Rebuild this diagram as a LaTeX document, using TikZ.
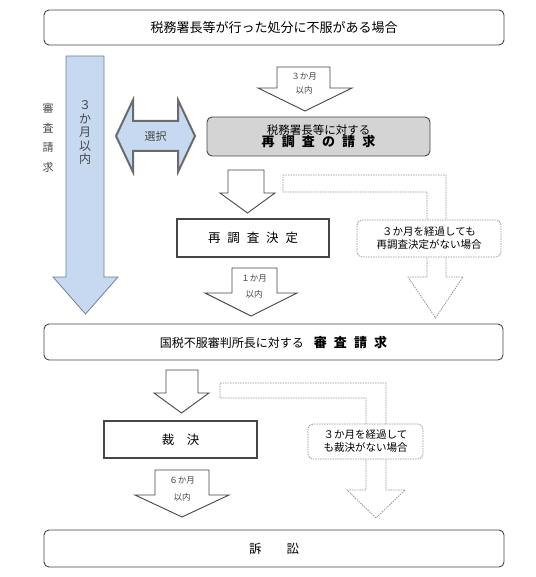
\documentclass[tikz,border=0pt]{standalone}
\usepackage{fontspec}
\setmainfont{Noto Sans CJK JP}
\usepackage{tikz}
\usetikzlibrary{calc}

\definecolor{paleblue}{RGB}{198,217,241}
\definecolor{edgeblue}{RGB}{110,128,155}
\definecolor{boxgrey}{RGB}{212,212,212}
\definecolor{lineg}{RGB}{70,70,70}
\definecolor{dashg}{RGB}{150,150,150}

% down block arrow: style, shaft left, shaft right, top, head left, head right, head base, tip
\newcommand\dnarrow[8]{%
  \draw[#1] (#2,#4) -- (#3,#4) -- (#3,#7) -- (#6,#7) -- ({(#5+#6)/2},#8)
    -- (#5,#7) -- (#2,#7) -- cycle;}

\tikzset{
  stagebox/.style={draw=lineg,line width=.9pt,rounded corners=5pt,fill=white,inner sep=0pt},
  resultbox/.style={draw=lineg,line width=1.4pt,fill=white,inner sep=0pt},
  notebox/.style={draw=dashg,dash pattern=on 1.5pt off 1pt,line width=.8pt,rounded corners=5pt,
    fill=white,inner sep=0pt,align=center,font=\fontsize{10.5}{13}\selectfont},
  blockarr/.style={draw=lineg,line width=.9pt,fill=white,line join=miter},
  dasharr/.style={draw=dashg,dash pattern=on 1.5pt off 1pt,line width=.8pt,fill=white},
  smalltxt/.style={inner sep=0pt,font=\fontsize{8.5}{10}\selectfont,text=lineg}
}

\newcommand\gp{\hspace{.55em}}

\begin{document}
\begin{tikzpicture}[x=1pt,y=-1pt]
  \useasboundingbox (0,0) rectangle (535,577);

  % boxes
  \node[stagebox,minimum width=460pt,minimum height=35pt,font=\fontsize{13}{15}\selectfont] (start) at (274,27.5)
    {税務署長等が行った処分に不服がある場合};
  \node[stagebox,fill=boxgrey,minimum width=223pt,minimum height=39pt,align=center] (reinv) at (318.5,136.5)
    {{\fontsize{11.5}{13}\selectfont 税務署長等に対する}\\[-1pt]
     {\fontsize{13}{14}\selectfont\bfseries 再\gp 調\gp 査\gp の\gp 請\gp 求}};
  \node[resultbox,minimum width=152pt,minimum height=38pt,font=\fontsize{12.5}{14}\selectfont] (redec) at (253,238)
    {再\gp 調\gp 査\gp 決\gp 定};
  \node[stagebox,minimum width=459pt,minimum height=36pt] (appeal) at (273.5,342)
    {{\fontsize{12}{14}\selectfont 国税不服審判所長に対する}\hspace{1em}{\fontsize{13}{14}\selectfont\bfseries 審\gp 査\gp 請\gp 求}};
  \node[resultbox,line width=1.2pt,minimum width=153pt,minimum height=37pt,font=\fontsize{12.5}{14}\selectfont] (ruling) at (180.5,439.5)
    {裁\hspace{1em}決};
  \node[stagebox,minimum width=460pt,minimum height=37pt,font=\fontsize{12.5}{14}\selectfont] (suit) at (274,548.5)
    {訴\hspace{2em}訟};

  % left: direct request
  \dnarrow{draw=edgeblue,line width=.8pt,fill=paleblue}{66}{104}{56}{53}{118}{277}{314}
  \node[inner sep=0pt,align=center,font=\fontsize{12}{13.5}\selectfont,text=lineg] (dirlim) at (85,133)
    {３\\か\\月\\以\\内};
  \node[inner sep=0pt,align=center,font=\fontsize{11}{19.5}\selectfont,text=lineg] (dirlab) at (48,138)
    {審\\査\\請\\求};

  % choice arrow
  \draw[draw=lineg!80,line width=2pt,fill=paleblue,line join=miter]
    (116,136) -- (133,100) -- (133,121) -- (178,121) -- (178,100) -- (195,136)
    -- (178,172) -- (178,151) -- (133,151) -- (133,172) -- cycle;
  \node[inner sep=0pt,font=\fontsize{11}{13}\selectfont,text=lineg] (choice) at (155.5,136) {選択};

  % flow arrows
  \dnarrow{blockarr}{277}{330}{67}{258}{352}{88}{111}
  \node[smalltxt] (lim1) at (304,76) {３か月};
  \node[smalltxt] (lim1b) at (304,90) {以内};
  \dnarrow{blockarr}{228}{264}{170}{220}{275}{193}{213}
  \dnarrow{blockarr}{232}{277}{268}{205}{297}{293}{316}
  \node[smalltxt] (lim2) at (254,278) {１か月};
  \node[smalltxt] (lim2b) at (254,294) {以内};
  \dnarrow{blockarr}{166}{198}{370}{154}{209}{393}{413}
  \dnarrow{blockarr}{155}{209}{470}{135}{229}{495}{517}
  \node[smalltxt] (lim3) at (182,480) {６か月};
  \node[smalltxt] (lim3b) at (182,497) {以内};

  % no decision within 3 months
  \draw[dasharr] (283,175) -- (446,175) -- (446,277) -- (463,277) -- (435.5,318)
    -- (408,277) -- (427,277) -- (427,192) -- (283,192) -- cycle;
  \node[notebox,minimum width=144pt,minimum height=37pt] (nodec1) at (429,238.5)
    {３か月を経過しても\\再調査決定がない場合};
  \draw[dasharr] (220,383) -- (386,383) -- (386,490) -- (405,490) -- (376,518)
    -- (347,490) -- (366,490) -- (366,398) -- (220,398) -- cycle;
  \node[notebox,minimum width=115pt,minimum height=35pt] (nodec2) at (365.5,441.5)
    {３か月を経過して\\も裁決がない場合};
\end{tikzpicture}
\end{document}
